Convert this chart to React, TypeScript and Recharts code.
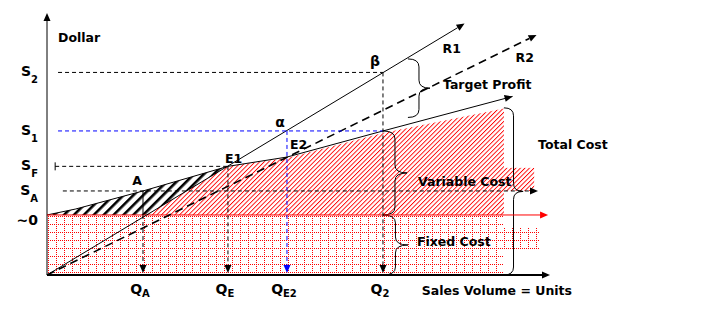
import React from "react";
import {
  ComposedChart,
  XAxis,
  YAxis,
  Area,
  Line,
  ReferenceLine,
  ReferenceDot,
  ReferenceArea,
} from "recharts";

const FONT = "'DejaVu Sans', Verdana, sans-serif";
const RED = "#ff0000";
const BLUE = "#0000ff";

// axis extents: units sold / dollars
const X_MAX = 104.8;
const Y_MAX = 87.3;

const FIXED_COST = 20;

// quantities marked on the x axis
const qTicks = [20, 37.7, 50, 70];
const qSubs = ["A", "E", "E2", "2"];
const [Q_A, Q_E, Q_E2, Q_2] = qTicks;

// dollar levels on the y axis
const sTicks = [20, 28, 36.2, 48, 67.5];
const sMain = ["~0", "S", "S", "S", "S"];
const sSubs = ["", "A", "F", "1", "2"];
const [, S_A, S_F, S_1, S_2] = sTicks;

// total cost curve
const costQ = [0, 6, 20, 37.7, 50, 70, 97];
const costV = [20, 22, 28, 36.2, 39.3, 48, 59.5];

// upper edge of the variable cost band
const varQ = [0, 6, 20, 37.7, 50, 70, 95.2];
const varTop = [20, 22, 28, 36.2, 39, 47.3, 55.5];

// loss wedge: under total cost, above R1 / fixed cost
const lossQ = [0, 6, 20, 20.75, 37.7];
const lossLow = [20, 20, 20, 20, 36.2];
const lossHigh = [20, 22, 28, 28.35, 36.2];

// revenue lines
const r1Q = [0, 87];
const r1V = [0, 83.8];
const r2Q = [0, 102];
const r2V = [0, 80];
const E2_V = 39.3;

// fixed cost band and the small blocks next to the braces
const fixedQ = [0, 95.2];
const fixedBlockQ = [95.2, 102.7];
const fixedBlockV = [8.7, 15.7];
const varBlockQ = [95.2, 101.5];
const varBlockV = [28, 35.7];

const FC_END_Q = 104.4;
const SA_END_Q = 102.3;

// braces
const braceNames = ["Target Profit", "Total Cost", "Variable Cost", "Fixed Cost"];
const braceQ1 = [75.2, 95.2, 70, 70];
const braceQ2 = [79.8, 99.2, 75, 75.2];
const braceLow = [52.5, 0, 20, 0];
const braceHigh = [72, 55.7, 48, 20];
const braceLabelShift = [
  [13, 1],
  [15, -42],
  [11, 13],
  [9, 1],
];

const zip = (q: number[], v: number[]) => q.map((x, i) => ({ q: x, v: v[i] }));
const zipRange = (q: number[], lo: number[], hi: number[]) =>
  q.map((x, i) => ({ q: x, v: [lo[i], hi[i]] }));

const fixedData = zipRange(fixedQ, [0, 0], [FIXED_COST, FIXED_COST]);
const fixedBlockData = zipRange(fixedBlockQ, [fixedBlockV[0], fixedBlockV[0]], [fixedBlockV[1], fixedBlockV[1]]);
const varData = zipRange(varQ, varQ.map(() => FIXED_COST), varTop);
const varBlockData = zipRange(varBlockQ, [varBlockV[0], varBlockV[0]], [varBlockV[1], varBlockV[1]]);
const lossData = zipRange(lossQ, lossLow, lossHigh);
const costData = zip(costQ, costV);

const boldText = {
  fontFamily: FONT,
  fontWeight: 700,
  fontSize: 12.5,
  fill: "#000",
};

// straight segment with an optional filled arrow head at the far end
function arrowLine(head = true, startTick = false, lineOnly = false) {
  return (p: any) => {
    const { x1, y1, x2, y2 } = p;
    const color = p.stroke || "#000";
    const sw = p.strokeWidth || 1;
    const a = Math.atan2(y2 - y1, x2 - x1);
    const c = Math.cos(a);
    const s = Math.sin(a);
    const L = 8;
    const W = 3.5;
    const bx = x2 - L * c;
    const by = y2 - L * s;
    const pts = `${x2},${y2} ${bx - W * s},${by + W * c} ${bx + W * s},${by - W * c}`;
    return (
      <g>
        {!lineOnly && (
          <line
            x1={x1}
            y1={y1}
            x2={head ? bx : x2}
            y2={head ? by : y2}
            stroke={color}
            strokeWidth={sw}
            strokeDasharray={p.strokeDasharray}
          />
        )}
        {head && <polygon points={pts} fill={color} />}
        {startTick && <line x1={x1} y1={y1 - 4} x2={x1} y2={y1 + 4} stroke={color} />}
      </g>
    );
  };
}

function braceShape(label: string, dx: number, dy: number) {
  return (p: any) => {
    const { x, y, width, height } = p;
    const sx = x + width / 2;
    const tx = x + width;
    const my = y + height / 2;
    const r = Math.min(8, height / 4);
    const d = `M${x},${y} Q${sx},${y} ${sx},${y + r} L${sx},${my - r} Q${sx},${my} ${tx},${my} Q${sx},${my} ${sx},${my + r} L${sx},${y + height - r} Q${sx},${y + height} ${x},${y + height}`;
    return (
      <g>
        <path d={d} fill="none" stroke="#000" strokeWidth={1} />
        <text x={tx + dx} y={my + dy} {...boldText}>
          {label}
        </text>
      </g>
    );
  };
}

function textAt(label: React.ReactNode, dx: number, dy: number, anchor = "start", size = 12.5) {
  return (p: any) => (
    <text x={p.cx + dx} y={p.cy + dy} textAnchor={anchor} {...boldText} fontSize={size}>
      {label}
    </text>
  );
}

function QTick(props: any) {
  const { x, y, payload } = props;
  const i = qTicks.indexOf(payload.value);
  return (
    <text x={x - 3} y={y + 11} textAnchor="middle" {...boldText} fontSize={14}>
      Q
      <tspan dy={3} fontSize={10}>
        {qSubs[i]}
      </tspan>
    </text>
  );
}

function STick(props: any) {
  const { x, y, payload } = props;
  const i = sTicks.indexOf(payload.value);
  return (
    <text x={x - 1} y={y + (i === 0 ? 10 : 4)} textAnchor="end" {...boldText} fontSize={14}>
      {sMain[i]}
      {sSubs[i] && (
        <tspan dy={7} fontSize={10}>
          {sSubs[i]}
        </tspan>
      )}
    </text>
  );
}

export default function App() {
  return (
    <div style={{ position: "fixed", left: 0, top: 0, background: "#fff" }}>
      <ComposedChart width={714} height={327} margin={{ top: 13, right: 164, bottom: 0, left: 0 }}>
        <defs>
          <pattern id="cvpFixedGrid" patternUnits="userSpaceOnUse" width={8} height={8}>
            <rect width={8} height={8} fill="#fff" />
            <line x1={0.5} y1={0} x2={0.5} y2={8} stroke={RED} strokeDasharray="1 1" shapeRendering="crispEdges" />
            <line x1={0} y1={0.5} x2={8} y2={0.5} stroke={RED} strokeDasharray="1 1" shapeRendering="crispEdges" />
          </pattern>
          <pattern id="cvpVarHatch" patternUnits="userSpaceOnUse" width={3.2} height={3.2} patternTransform="rotate(45)">
            <rect width={3.2} height={3.2} fill="#fff" />
            <rect x={0} y={0} width={0.9} height={3.2} fill={RED} />
          </pattern>
          <pattern id="cvpLossHatch" patternUnits="userSpaceOnUse" width={7} height={7} patternTransform="rotate(45)">
            <rect width={7} height={7} fill="#fff" />
            <rect x={0} y={0} width={2.6} height={7} fill="#000" />
          </pattern>
        </defs>

        <XAxis
          type="number"
          dataKey="q"
          domain={[0, X_MAX]}
          ticks={qTicks}
          interval={0}
          height={52}
          axisLine={false}
          tickLine={false}
          tick={(p: any) => <QTick {...p} />}
          allowDataOverflow
        />
        <YAxis
          type="number"
          domain={[0, Y_MAX]}
          ticks={sTicks}
          interval={0}
          width={47}
          axisLine={false}
          tickLine={false}
          tick={(p: any) => <STick {...p} />}
          allowDataOverflow
        />

        <Area data={fixedData} dataKey="v" type="linear" stroke="none" fill="url(#cvpFixedGrid)" fillOpacity={1} isAnimationActive={false} />
        <Area data={fixedBlockData} dataKey="v" type="linear" stroke="none" fill="url(#cvpFixedGrid)" fillOpacity={1} isAnimationActive={false} />
        <Area data={varData} dataKey="v" type="linear" stroke="none" fill="url(#cvpVarHatch)" fillOpacity={1} isAnimationActive={false} />
        <Area data={varBlockData} dataKey="v" type="linear" stroke="none" fill="url(#cvpVarHatch)" fillOpacity={1} isAnimationActive={false} />
        <Area data={lossData} dataKey="v" type="linear" stroke="none" fill="url(#cvpLossHatch)" fillOpacity={1} isAnimationActive={false} />

        <Line data={costData} dataKey="v" type="linear" stroke="#000" strokeWidth={1} dot={false} isAnimationActive={false} />

        {/* axes */}
        <ReferenceLine segment={[{ x: 0, y: 0 }, { x: X_MAX, y: 0 }]} stroke="#000" strokeWidth={2} ifOverflow="visible" shape={arrowLine()} />
        <ReferenceLine segment={[{ x: 0, y: 0 }, { x: 0, y: Y_MAX }]} stroke="#000" strokeWidth={1} ifOverflow="visible" shape={arrowLine()} />

        {/* fixed cost level */}
        <ReferenceLine segment={[{ x: 0, y: FIXED_COST }, { x: FC_END_Q, y: FIXED_COST }]} stroke={RED} ifOverflow="visible" shape={arrowLine()} />

        {/* end of the total cost curve */}
        <ReferenceLine
          segment={[{ x: costQ[costQ.length - 2], y: costV[costV.length - 2] }, { x: costQ[costQ.length - 1], y: costV[costV.length - 1] }]}
          stroke="#000"
          ifOverflow="visible"
          shape={arrowLine(true, false, true)}
        />

        {/* revenue lines */}
        <ReferenceLine segment={[{ x: r1Q[0], y: r1V[0] }, { x: r1Q[1], y: r1V[1] }]} stroke="#000" ifOverflow="visible" shape={arrowLine()} />
        <ReferenceLine
          segment={[{ x: r2Q[0], y: r2V[0] }, { x: r2Q[1], y: r2V[1] }]}
          stroke="#000"
          strokeWidth={1.6}
          strokeDasharray="8 5"
          ifOverflow="visible"
          shape={arrowLine()}
        />

        {/* horizontal guides */}
        <ReferenceLine segment={[{ x: 2.3, y: S_2 }, { x: Q_2, y: S_2 }]} stroke="#000" strokeDasharray="4 3" ifOverflow="visible" shape={arrowLine(false)} />
        <ReferenceLine segment={[{ x: 2.3, y: S_1 }, { x: Q_2, y: S_1 }]} stroke={BLUE} strokeDasharray="4 3" ifOverflow="visible" shape={arrowLine(false)} />
        <ReferenceLine segment={[{ x: 1.7, y: S_F }, { x: Q_E, y: S_F }]} stroke="#000" strokeDasharray="4 3" ifOverflow="visible" shape={arrowLine(false, true)} />
        <ReferenceLine segment={[{ x: 3.3, y: S_A }, { x: SA_END_Q, y: S_A }]} stroke="#000" strokeDasharray="4 3" ifOverflow="visible" shape={arrowLine()} />

        {/* drops to the quantity axis */}
        <ReferenceLine segment={[{ x: Q_A, y: S_A }, { x: Q_A, y: FIXED_COST }]} stroke="#000" ifOverflow="visible" shape={arrowLine(false)} />
        <ReferenceLine segment={[{ x: Q_A, y: FIXED_COST }, { x: Q_A, y: 0.7 }]} stroke="#000" strokeDasharray="4 3" ifOverflow="visible" shape={arrowLine()} />
        <ReferenceLine segment={[{ x: Q_E, y: S_F }, { x: Q_E, y: 0.7 }]} stroke="#000" strokeDasharray="4 3" ifOverflow="visible" shape={arrowLine()} />
        <ReferenceLine segment={[{ x: Q_E2, y: S_1 }, { x: Q_E2, y: 0.7 }]} stroke={BLUE} strokeDasharray="4 3" ifOverflow="visible" shape={arrowLine()} />
        <ReferenceLine segment={[{ x: Q_2, y: S_2 }, { x: Q_2, y: 0.7 }]} stroke="#000" strokeDasharray="4 3" ifOverflow="visible" shape={arrowLine()} />

        {/* braces */}
        {braceNames.map((name, i) => (
          <ReferenceArea
            key={name}
            x1={braceQ1[i]}
            x2={braceQ2[i]}
            y1={braceLow[i]}
            y2={braceHigh[i]}
            ifOverflow="visible"
            shape={braceShape(name, braceLabelShift[i][0], braceLabelShift[i][1])}
          />
        ))}

        {/* point labels */}
        <ReferenceDot x={Q_A} y={S_A} r={0} ifOverflow="visible" shape={textAt("A", -6, -6, "middle")} />
        <ReferenceDot x={Q_E} y={S_F} r={0} ifOverflow="visible" shape={textAt("E1", -3, -3)} />
        <ReferenceDot x={Q_E2} y={E2_V} r={0} ifOverflow="visible" shape={textAt("E2", 3, -8)} />
        <ReferenceDot x={Q_E2} y={S_1} r={0} ifOverflow="visible" shape={textAt("α", -7, -4, "middle", 14)} />
        <ReferenceDot x={Q_2} y={S_2} r={0} ifOverflow="visible" shape={textAt("β", -8, -6, "middle", 14)} />
        <ReferenceDot x={r1Q[1]} y={r1V[1]} r={0} ifOverflow="visible" shape={textAt("R1", -22, 29)} />
        <ReferenceDot x={r2Q[1]} y={r2V[1]} r={0} ifOverflow="visible" shape={textAt("R2", -21, 27)} />
        <ReferenceDot x={0} y={Y_MAX} r={0} ifOverflow="visible" shape={textAt("Dollar", 11, 29)} />
        <ReferenceDot x={X_MAX} y={0} r={0} ifOverflow="visible" shape={textAt("Sales Volume = Units", 22, 20, "end")} />
      </ComposedChart>
    </div>
  );
}
